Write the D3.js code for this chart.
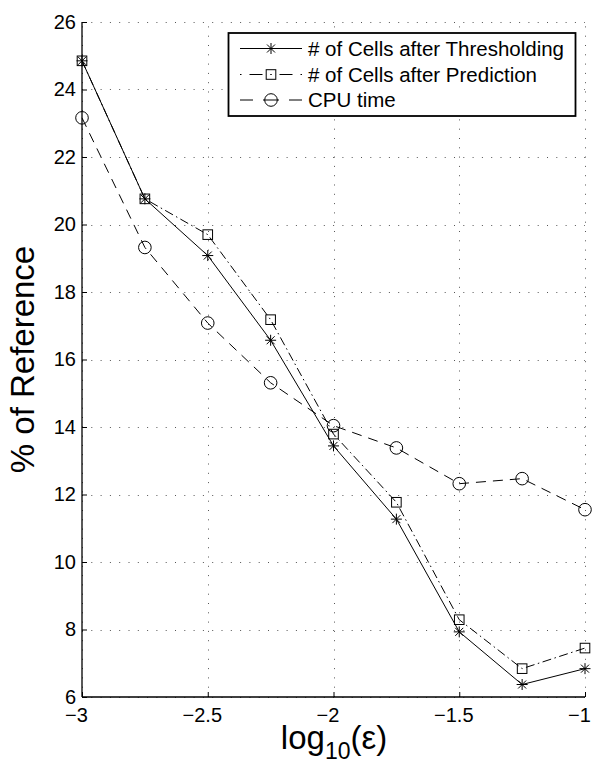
<!DOCTYPE html>
<html>
<head>
<meta charset="utf-8">
<script src="https://cdn.jsdelivr.net/npm/d3@7"></script>
<style>
  html, body { margin: 0; padding: 0; background: #fff; }
  svg { display: block; }
  text { font-family: "Liberation Sans", Arial, Helvetica, sans-serif; fill: #000; }
</style>
</head>
<body>
<svg id="chart" width="592" height="764"></svg>
<script>
// log10(epsilon) sample positions
const epsLog = [-3, -2.75, -2.5, -2.25, -2, -1.75, -1.5, -1.25, -1];

// Percent of reference for each measured quantity
const cellsThresholding = [24.85, 20.76, 19.08, 16.57, 13.44, 11.27, 7.93, 6.37, 6.84];
const cellsPrediction   = [24.85, 20.76, 19.70, 17.18, 13.79, 11.77, 8.29, 6.84, 7.45];
const cpuTime           = [23.16, 19.32, 17.08, 15.31, 14.04, 13.38, 12.32, 12.47, 11.55];

// Axis ticks and their labels
const xTicks = [-3, -2.5, -2, -1.5, -1];
const xTickLabels = ["\u22123", "\u22122.5", "\u22122", "\u22121.5", "\u22121"];
const yTicks = [6, 8, 10, 12, 14, 16, 18, 20, 22, 24, 26];
const yTickLabels = ["6", "8", "10", "12", "14", "16", "18", "20", "22", "24", "26"];

const seriesNames = ["# of Cells after Thresholding", "# of Cells after Prediction", "CPU time"];

const svg = d3.select("#chart");
const plotLeft = 82, plotRight = 585, plotTop = 22, plotBottom = 697;

const x = d3.scaleLinear().domain([-3, -1]).range([plotLeft, plotRight]);
const y = d3.scaleLinear().domain([6, 26]).range([plotBottom, plotTop]);

// Dotted grid
const grid = svg.append("g")
  .attr("stroke", "#555")
  .attr("stroke-width", 1)
  .attr("stroke-dasharray", "1,8.3");
grid.selectAll("line.gx").data(xTicks).join("line")
  .attr("class", "gx")
  .attr("x1", d => Math.round(x(d)) + 0.5).attr("x2", d => Math.round(x(d)) + 0.5)
  .attr("y1", plotBottom).attr("y2", plotTop);
grid.selectAll("line.gy").data(yTicks).join("line")
  .attr("class", "gy")
  .attr("y1", d => Math.round(y(d)) + 0.5).attr("y2", d => Math.round(y(d)) + 0.5)
  .attr("x1", plotLeft).attr("x2", plotRight);

// Axes with inward ticks
const xAxis = d3.axisBottom(x)
  .tickValues(xTicks)
  .tickFormat((d, i) => xTickLabels[i])
  .tickSizeInner(-5).tickSizeOuter(0).tickPadding(11);
const yAxis = d3.axisLeft(y)
  .tickValues(yTicks)
  .tickFormat((d, i) => yTickLabels[i])
  .tickSizeInner(-5).tickSizeOuter(0).tickPadding(6);

const gx = svg.append("g").attr("transform", `translate(0,${plotBottom})`).call(xAxis);
const gy = svg.append("g").attr("transform", `translate(${plotLeft},0)`).call(yAxis);
[gx, gy].forEach(g => {
  g.select(".domain").attr("stroke", "#000").attr("stroke-width", 1.3);
  g.selectAll(".tick line").attr("stroke", "#000");
  g.selectAll(".tick text").attr("font-size", 20).attr("fill", "#000")
    .attr("font-family", "Liberation Sans, Arial, sans-serif");
});
// negative labels sit slightly left of their tick
gx.selectAll(".tick text").attr("dx", -6);
gx.select(".domain").attr("d", `M${plotLeft},0H${plotRight}`);
gy.select(".domain").attr("d", `M0,${plotBottom}V${plotTop}`);

// Axis titles
svg.append("text")
  .attr("transform", `translate(34,${(plotTop + plotBottom) / 2}) rotate(-90)`)
  .attr("text-anchor", "middle")
  .attr("font-size", 33)
  .text("% of Reference");

const xl = svg.append("text")
  .attr("x", (plotLeft + plotRight) / 2 + 0.5)
  .attr("y", 749)
  .attr("text-anchor", "middle")
  .attr("font-size", 33);
xl.append("tspan").text("log");
xl.append("tspan").attr("font-size", 23).attr("dy", 10).text("10");
xl.append("tspan").attr("dy", -10).text("(\u03b5)");

// Marker shapes
function drawMarker(g, kind, cx, cy) {
  const m = g.append("g").attr("transform", `translate(${cx},${cy})`)
    .attr("fill", "none").attr("stroke", "#000").attr("stroke-width", 1);
  if (kind === "star") {
    const r = 5.5, d = 4;
    m.append("path").attr("d",
      `M${-r},0H${r}M0,${-r}V${r}M${-d},${-d}L${d},${d}M${-d},${d}L${d},${-d}`);
  } else if (kind === "square") {
    m.append("rect").attr("x", -4.8).attr("y", -4.8).attr("width", 9.6).attr("height", 9.6);
  } else {
    m.append("circle").attr("r", 6.3);
  }
}

const series = [
  { name: seriesNames[0], values: cellsThresholding, dash: null, legendDash: null, marker: "star" },
  { name: seriesNames[1], values: cellsPrediction, dash: "9,3.5,1.5,3.5",
    legendDash: "1.5,8,13,7.75,1.5,7.75,13,8,1.5", marker: "square" },
  { name: seriesNames[2], values: cpuTime, dash: "10,7",
    legendDash: "13,10,16,10,13", marker: "circle" }
];

const line = d3.line().x(d => x(d[0])).y(d => y(d[1]));
const plot = svg.append("g");

series.forEach(s => {
  const pts = epsLog.map((e, i) => [e, s.values[i]]);
  plot.append("path")
    .datum(pts)
    .attr("d", line)
    .attr("fill", "none")
    .attr("stroke", "#000")
    .attr("stroke-width", 1)
    .attr("stroke-dasharray", s.dash);
  pts.forEach(p => drawMarker(plot, s.marker, x(p[0]), y(p[1])));
});

// Legend
const lg = svg.append("g");
lg.append("rect")
  .attr("x", 228.5).attr("y", 33).attr("width", 347).attr("height", 83)
  .attr("fill", "#fff").attr("stroke", "#000").attr("stroke-width", 1.8);
const rowY = [48.5, 74.5, 100];
series.forEach((s, i) => {
  lg.append("line")
    .attr("x1", 240).attr("x2", 302)
    .attr("y1", rowY[i]).attr("y2", rowY[i])
    .attr("stroke", "#000").attr("stroke-width", 1)
    .attr("stroke-dasharray", s.legendDash);
  drawMarker(lg, s.marker, 271, rowY[i]);
  lg.append("text")
    .attr("x", 308).attr("y", rowY[i])
    .attr("dy", "0.36em")
    .attr("font-size", 20.5)
    .text(s.name);
});
</script>
</body>
</html>
